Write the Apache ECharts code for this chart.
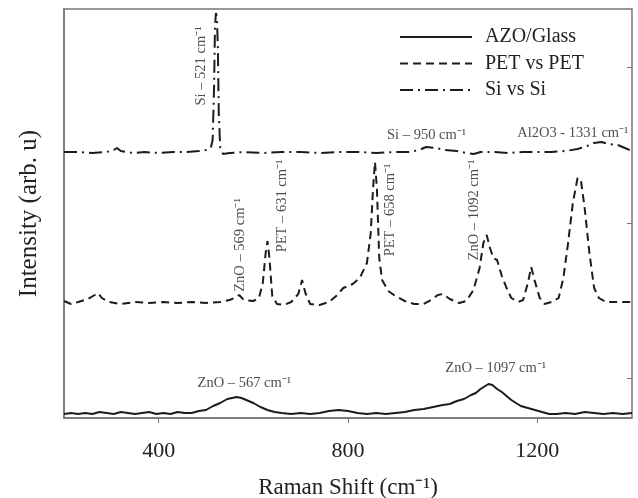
<!DOCTYPE html>
<html lang="en">
  <head>
    <meta charset="UTF-8" />
    <title>Raman spectra</title>
    <script src="https://cdn.jsdelivr.net/npm/echarts@6.0.0/dist/echarts.min.js"></script>
  </head>
  <body style="margin: 0">
    <div id="main" style="width: 638px; height: 498px"></div>
    <script type="text/javascript">
      // spectra (intensity in arbitrary units, curves already offset)
      const siX = [200, 230, 260, 290, 305, 312, 320, 345, 370, 400, 430, 460, 485, 500, 510, 514, 517, 519, 521, 523, 525, 527, 530, 536, 550, 580, 620, 660, 700, 740, 780, 820, 860, 900, 930, 950, 965, 985, 1005, 1030, 1050, 1066, 1080, 1110, 1140, 1170, 1200, 1230, 1260, 1285, 1305, 1320, 1335, 1350, 1370, 1385, 1400];
      const siY = [266, 266, 265, 266, 268, 270, 267, 265, 266, 265, 266, 266, 267, 268, 270, 278, 330, 392, 405, 400, 372, 305, 270, 264, 265, 266, 265, 266, 266, 265, 266, 266, 265, 266, 266, 268, 271, 270, 268, 267, 265, 264, 266, 266, 265, 266, 266, 266, 267, 269, 272, 275, 276, 274, 273, 270, 267];

      const petX = [200, 215, 230, 250, 265, 272, 280, 295, 320, 350, 380, 410, 440, 470, 500, 530, 550, 565, 570, 580, 600, 612, 620, 626, 630, 634, 640, 650, 665, 680, 695, 703, 710, 720, 740, 760, 775, 790, 810, 825, 840, 848, 853, 857, 861, 866, 872, 885, 900, 920, 940, 960, 975, 990, 1000, 1015, 1035, 1050, 1065, 1078, 1086, 1093, 1100, 1107, 1115, 1125, 1135, 1145, 1160, 1170, 1180, 1187, 1194, 1205, 1215, 1230, 1245, 1255, 1265, 1275, 1285, 1292, 1300, 1310, 1320, 1330, 1345, 1370, 1400];
      const petY = [117, 114, 116, 119, 123, 125, 120, 116, 114, 116, 115, 116, 115, 116, 115, 116, 118, 121, 123, 118, 117, 120, 135, 165, 177, 160, 122, 114, 113, 116, 124, 138, 125, 114, 113, 116, 122, 130, 134, 140, 155, 185, 230, 256, 230, 160, 138, 127, 122, 117, 114, 114, 118, 123, 124, 119, 115, 117, 128, 150, 175, 183, 170, 160, 158, 142, 130, 120, 116, 118, 135, 151, 138, 120, 114, 116, 120, 140, 175, 215, 240, 238, 210, 165, 130, 120, 116, 116, 116];

      const azoX = [200, 215, 230, 245, 260, 275, 290, 305, 320, 335, 350, 365, 380, 395, 410, 425, 440, 455, 470, 485, 500, 515, 530, 545, 555, 565, 575, 585, 600, 615, 630, 645, 660, 680, 700, 720, 740, 760, 780, 800, 820, 840, 860, 880, 900, 920, 940, 960, 980, 1000, 1015, 1030, 1045, 1060, 1070, 1080, 1090, 1097, 1105, 1115, 1125, 1135, 1145, 1155, 1165, 1180, 1195, 1210, 1225, 1240, 1260, 1280, 1300, 1320, 1340, 1360, 1380, 1400];
      const azoY = [4, 5, 4, 5, 4, 6, 5, 4, 6, 5, 4, 5, 6, 4, 5, 4, 6, 5, 5, 7, 8, 12, 15, 19, 20, 21, 20, 18, 15, 11, 8, 6, 5, 4, 5, 4, 5, 7, 8, 7, 5, 4, 5, 4, 5, 6, 8, 9, 11, 13, 14, 17, 19, 23, 25, 29, 32, 34, 33, 29, 26, 22, 18, 15, 12, 10, 8, 6, 4, 4, 5, 4, 6, 5, 4, 5, 4, 5];

      // peak annotations: text, x, y (data units), rotation
      const noteText = ["Si – 521 cm⁻¹", "ZnO – 569 cm⁻¹", "PET – 631 cm⁻¹", "PET – 658 cm⁻¹", "ZnO – 1092 cm⁻¹", "Si – 950 cm⁻¹", "Al2O3 - 1331 cm⁻¹", "ZnO – 567 cm⁻¹", "ZnO – 1097 cm⁻¹"];
      const noteX = [490, 572, 661, 890, 1066, 966, 1275, 581, 1112];
      const noteY = [352, 173, 212, 208, 208, 283, 285, 35, 50];
      const noteRot = [90, 90, 90, 90, 90, 0, 0, 0, 0];

      const xTicks = [400, 800, 1200];
      const yTicks = [40, 195, 351];

      const pairs = (xs, ys) => xs.map((x, i) => [x, ys[i]]);
      const ink = "#1c1c1c";
      const serif = "Liberation Serif";

      let myChart = echarts.init(document.getElementById("main"));

      let options = {
        animation: false,
        backgroundColor: "#fff",
        textStyle: { fontFamily: serif },
        grid: {
          left: 64,
          right: 6,
          top: 9,
          bottom: 80,
          outerBoundsMode: "none",
          show: true,
          borderColor: "#777",
          borderWidth: 1.5,
        },
        legend: {
          orient: "vertical",
          left: 394,
          top: 22,
          itemWidth: 72,
          itemHeight: 14,
          itemGap: 6.5,
          data: ["AZO/Glass", "PET vs PET", "Si vs Si"],
          itemStyle: { opacity: 0, borderWidth: 0 },
          textStyle: { fontFamily: serif, fontSize: 20, lineHeight: 20, color: "#222", padding: [0, 0, 0, 8] },
        },
        xAxis: {
          type: "value",
          min: 200,
          max: 1400,
          name: "Raman Shift (cm⁻¹)",
          nameLocation: "middle",
          nameGap: 58,
          nameTextStyle: { fontFamily: serif, fontSize: 23, color: "#222" },
          axisLine: { lineStyle: { color: "#777", width: 1.5 } },
          axisTick: { show: true, length: 5, customValues: xTicks, lineStyle: { color: "#777" } },
          axisLabel: {
            customValues: xTicks,
            formatter: (v) => String(v),
            fontFamily: serif,
            fontSize: 22,
            color: "#222",
            margin: 22,
          },
          splitLine: { show: false },
        },
        yAxis: [
          {
            type: "value",
            min: 0,
            max: 409,
            name: "Intensity (arb. u)",
            nameLocation: "middle",
            nameGap: 22,
            nameTextStyle: { fontFamily: serif, fontSize: 25, color: "#222" },
            axisLine: { show: true, lineStyle: { color: "#777", width: 1.5 } },
            axisTick: { show: false },
            axisLabel: { show: false },
            splitLine: { show: false },
          },
          {
            type: "value",
            position: "right",
            min: 0,
            max: 409,
            axisLine: { show: false },
            axisTick: { show: true, inside: true, length: 5, customValues: yTicks, lineStyle: { color: "#777" } },
            axisLabel: { show: false },
            splitLine: { show: false },
          },
        ],
        series: [
          {
            name: "AZO/Glass",
            type: "line",
            symbol: "none",
            data: pairs(azoX, azoY),
            lineStyle: { color: ink, width: 2, type: "solid" },
            itemStyle: { color: ink },
          },
          {
            name: "PET vs PET",
            type: "line",
            symbol: "none",
            data: pairs(petX, petY),
            lineStyle: { color: ink, width: 2, type: [8, 5] },
            itemStyle: { color: ink },
          },
          {
            name: "Si vs Si",
            type: "line",
            symbol: "none",
            data: pairs(siX, siY),
            lineStyle: { color: ink, width: 2, type: [13, 5, 2, 5] },
            itemStyle: { color: ink },
          },
          {
            name: "notes",
            type: "scatter",
            symbolSize: 0,
            silent: true,
            data: noteText.map((t, i) => ({
              name: t,
              value: [noteX[i], noteY[i]],
              label: { rotate: noteRot[i] },
            })),
            label: {
              show: true,
              position: "inside",
              formatter: "{b}",
              fontFamily: serif,
              fontSize: 14.5,
              color: "#222",
            },
          },
        ],
      };

      myChart.setOption(options);
    </script>
  </body>
</html>
